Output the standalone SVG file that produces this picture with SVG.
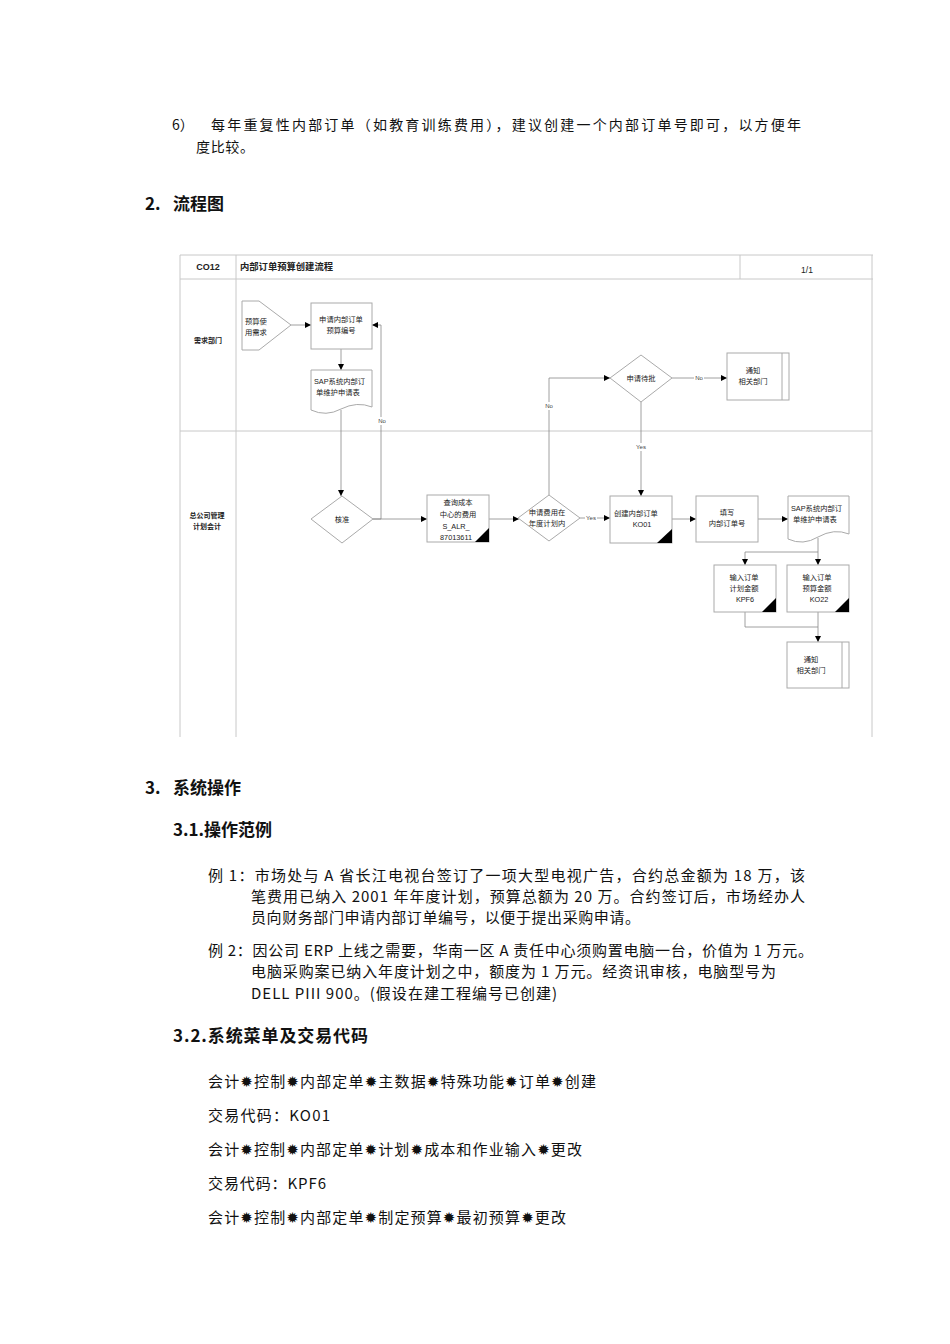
<svg xmlns="http://www.w3.org/2000/svg" width="950" height="1344" viewBox="0 0 950 1344">
<style>
.body{font-family:"Noto Sans CJK SC","DejaVu Sans",sans-serif;fill:#111;}
.h{font-family:"Noto Sans CJK SC","DejaVu Sans",sans-serif;font-weight:bold;fill:#111;}
.fc{font-family:"Liberation Sans","Noto Sans CJK SC",sans-serif;font-size:7.3px;fill:#222;}
.fcb{font-family:"Liberation Sans","Noto Sans CJK SC",sans-serif;font-size:7px;font-weight:bold;fill:#222;}
.lbl{font-family:"Liberation Sans","Noto Sans CJK SC",sans-serif;font-size:6px;fill:#444;}
.frame{stroke:#c8c8c8;stroke-width:1;fill:none;}
.node{stroke:#aaa;stroke-width:1;fill:#fff;}
.conn{stroke:#888;stroke-width:0.8;fill:none;}
.tri{fill:#000;}
</style>
<defs>
<marker id="ah" viewBox="0 0 6 6" refX="6" refY="3" markerWidth="6" markerHeight="6" orient="auto" markerUnits="userSpaceOnUse">
<path d="M0,0 L6,3 L0,6 Z" fill="#000"/>
</marker>
</defs>
<rect width="950" height="1344" fill="#fff"/>

<!-- Body text top -->
<g id="para6">
<text class="body" x="172" y="130" font-size="14">6）</text>
<text class="body" x="211" y="130" font-size="14" textLength="590" lengthAdjust="spacing">每年重复性内部订单（如教育训练费用），建议创建一个内部订单号即可，以方便年</text>
<text class="body" x="196" y="152" font-size="14" textLength="58" lengthAdjust="spacing">度比较。</text>
</g>
<g id="heading2">
<text class="h" x="145" y="210" font-size="17">2.</text>
<text class="h" x="173" y="210" font-size="17">流程图</text>
</g>

<!-- Flowchart frame -->
<g id="frame">
<line class="frame" x1="180" y1="255" x2="873" y2="255"/>
<line class="frame" x1="180" y1="279" x2="873" y2="279"/>
<line class="frame" x1="180" y1="255" x2="180" y2="737"/>
<line class="frame" x1="872" y1="255" x2="872" y2="737"/>
<line class="frame" x1="236" y1="255" x2="236" y2="737"/>
<line class="frame" x1="740" y1="255" x2="740" y2="279"/>
<line class="frame" x1="180" y1="431" x2="872" y2="431"/>
<text class="fcb" x="208" y="270" text-anchor="middle" style="font-size:9px">CO12</text>
<text class="fcb" x="240" y="270" style="font-size:9.3px">内部订单预算创建流程</text>
<text class="fc" x="807" y="273" text-anchor="middle" style="font-size:8.5px">1/1</text>
<text class="fcb" x="208" y="343" text-anchor="middle">需求部门</text>
<text class="fcb" x="207" y="518" text-anchor="middle">总公司管理</text>
<text class="fcb" x="207" y="529" text-anchor="middle">计划会计</text>
</g>

<!-- Connectors -->
<g id="connectors">
<line class="conn" x1="291" y1="325" x2="311" y2="325" marker-end="url(#ah)"/>
<line class="conn" x1="341" y1="349" x2="341" y2="370" marker-end="url(#ah)"/>
<line class="conn" x1="341" y1="410" x2="341" y2="496" marker-end="url(#ah)"/>
<polyline class="conn" points="373,519 381,519 381,325 372,325" marker-end="url(#ah)"/>
<line class="conn" x1="373" y1="519" x2="427" y2="519" marker-end="url(#ah)"/>
<line class="conn" x1="489" y1="519" x2="519" y2="519" marker-end="url(#ah)"/>
<polyline class="conn" points="549,495 549,378 610,378" marker-end="url(#ah)"/>
<line class="conn" x1="672" y1="378" x2="727" y2="378" marker-end="url(#ah)"/>
<line class="conn" x1="641" y1="402" x2="641" y2="496" marker-end="url(#ah)"/>
<line class="conn" x1="580" y1="518" x2="610" y2="518" marker-end="url(#ah)"/>
<line class="conn" x1="672" y1="519" x2="696" y2="519" marker-end="url(#ah)"/>
<line class="conn" x1="758" y1="519" x2="788" y2="519" marker-end="url(#ah)"/>
<line class="conn" x1="818" y1="538" x2="818" y2="565" marker-end="url(#ah)"/>
<polyline class="conn" points="818,552 745,552 745,565" marker-end="url(#ah)"/>
<polyline class="conn" points="745,612 745,627 818,627"/>
<line class="conn" x1="818" y1="612" x2="818" y2="642" marker-end="url(#ah)"/>
<rect x="377" y="417" width="9" height="8" fill="#fff"/>
<text class="lbl" x="382" y="423" text-anchor="middle">No</text>
<rect x="545" y="402" width="9" height="8" fill="#fff"/>
<text class="lbl" x="549" y="408" text-anchor="middle">No</text>
<rect x="694" y="374" width="10" height="8" fill="#fff"/>
<text class="lbl" x="699" y="380" text-anchor="middle">No</text>
<rect x="635" y="443" width="12" height="8" fill="#fff"/>
<text class="lbl" x="641" y="449" text-anchor="middle">Yes</text>
<rect x="585" y="514" width="12" height="8" fill="#fff"/>
<text class="lbl" x="591" y="520" text-anchor="middle">Yes</text>
</g>

<!-- Nodes -->
<g id="n_need">
<polygon class="node" points="242,301 259,301 291,325 259,350 242,350"/>
<text class="fc" x="245" y="324">预算使</text>
<text class="fc" x="245" y="335">用需求</text>
</g>
<g id="n_apply">
<rect class="node" x="311" y="303" width="61" height="46"/>
<text class="fc" x="341" y="322" text-anchor="middle">申请内部订单</text>
<text class="fc" x="341" y="333" text-anchor="middle">预算编号</text>
</g>
<g id="n_doc1">
<path class="node" d="M311,370 H372 V407 Q357,401 341,409 Q326,417 311,410 Z"/>
<text class="fc" x="314" y="384">SAP系统内部订</text>
<text class="fc" x="316" y="395">单维护申请表</text>
</g>
<g id="n_approve">
<polygon class="node" points="342,496 373,519 342,543 311,519"/>
<text class="fc" x="342" y="522" text-anchor="middle">核准</text>
</g>
<g id="n_query">
<rect class="node" x="427" y="495" width="62" height="47"/>
<text class="fc" x="458" y="505" text-anchor="middle">查询成本</text>
<text class="fc" x="458" y="517" text-anchor="middle">中心的费用</text>
<text class="fc" x="456" y="529" text-anchor="middle">S_ALR_</text>
<text class="fc" x="456" y="540" text-anchor="middle">87013611</text>
<polygon class="tri" points="475,542 489,542 489,528"/>
</g>
<g id="n_inplan">
<polygon class="node" points="549,495 580,518 549,541 518,518"/>
<text class="fc" x="547" y="515" text-anchor="middle">申请费用在</text>
<text class="fc" x="547" y="526" text-anchor="middle">年度计划内</text>
</g>
<g id="n_pending">
<polygon class="node" points="641,355 672,378 641,402 610,378"/>
<text class="fc" x="641" y="381" text-anchor="middle">申请待批</text>
</g>
<g id="n_notify1">
<rect class="node" x="727" y="353" width="62" height="47"/>
<line class="node" x1="782" y1="353" x2="782" y2="400"/>
<text class="fc" x="753" y="373" text-anchor="middle">通知</text>
<text class="fc" x="753" y="384" text-anchor="middle">相关部门</text>
</g>
<g id="n_create">
<rect class="node" x="610" y="496" width="62" height="47"/>
<text class="fc" x="614" y="516">创建内部订单</text>
<text class="fc" x="642" y="527" text-anchor="middle">KO01</text>
<polygon class="tri" points="657,543 672,543 672,529"/>
</g>
<g id="n_fill">
<rect class="node" x="696" y="496" width="62" height="46"/>
<text class="fc" x="727" y="515" text-anchor="middle">填写</text>
<text class="fc" x="727" y="526" text-anchor="middle">内部订单号</text>
</g>
<g id="n_doc2">
<path class="node" d="M788,496 H849 V534 Q834,528 818,537 Q803,546 788,539 Z"/>
<text class="fc" x="791" y="511">SAP系统内部订</text>
<text class="fc" x="793" y="522">单维护申请表</text>
</g>
<g id="n_kpf6">
<rect class="node" x="714" y="565" width="62" height="47"/>
<text class="fc" x="744" y="580" text-anchor="middle">输入订单</text>
<text class="fc" x="744" y="591" text-anchor="middle">计划金额</text>
<text class="fc" x="745" y="602" text-anchor="middle">KPF6</text>
<polygon class="tri" points="762,612 776,612 776,598"/>
</g>
<g id="n_ko22">
<rect class="node" x="787" y="565" width="62" height="47"/>
<text class="fc" x="817" y="580" text-anchor="middle">输入订单</text>
<text class="fc" x="817" y="591" text-anchor="middle">预算金额</text>
<text class="fc" x="819" y="602" text-anchor="middle">KO22</text>
<polygon class="tri" points="835,612 849,612 849,598"/>
</g>
<g id="n_notify2">
<rect class="node" x="787" y="642" width="62" height="46"/>
<line class="node" x1="842" y1="642" x2="842" y2="688"/>
<text class="fc" x="811" y="662" text-anchor="middle">通知</text>
<text class="fc" x="811" y="673" text-anchor="middle">相关部门</text>
</g>

<!-- Section 3 -->
<g id="heading3">
<text class="h" x="145" y="794" font-size="17">3.</text>
<text class="h" x="173" y="794" font-size="17">系统操作</text>
<text class="h" x="173" y="836" font-size="17">3.1.操作范例</text>
</g>
<g id="examples">
<text class="body" x="208" y="881" font-size="15" textLength="597" lengthAdjust="spacing">例 1：市场处与 A 省长江电视台签订了一项大型电视广告，合约总金额为 18 万，该</text>
<text class="body" x="251" y="902" font-size="15" textLength="554" lengthAdjust="spacing">笔费用已纳入 2001 年年度计划，预算总额为 20 万。合约签订后，市场经办人</text>
<text class="body" x="251" y="923" font-size="15" textLength="389" lengthAdjust="spacing">员向财务部门申请内部订单编号，以便于提出采购申请。</text>
<text class="body" x="208" y="956" font-size="15" textLength="605" lengthAdjust="spacing">例 2：因公司 ERP 上线之需要，华南一区 A 责任中心须购置电脑一台，价值为 1 万元。</text>
<text class="body" x="251" y="977" font-size="15" textLength="525" lengthAdjust="spacing">电脑采购案已纳入年度计划之中，额度为 1 万元。经资讯审核，电脑型号为</text>
<text class="body" x="251" y="999" font-size="15" textLength="306" lengthAdjust="spacing">DELL PIII 900。(假设在建工程编号已创建)</text>
</g>
<g id="heading32">
<text class="h" x="173" y="1042" font-size="17" textLength="195" lengthAdjust="spacing">3.2.系统菜单及交易代码</text>
</g>
<g id="menus">
<text class="body" x="208" y="1087" font-size="15" textLength="388" lengthAdjust="spacing">会计✹控制✹内部定单✹主数据✹特殊功能✹订单✹创建</text>
<text class="body" x="208" y="1121" font-size="15" textLength="122" lengthAdjust="spacing">交易代码：KO01</text>
<text class="body" x="208" y="1155" font-size="15" textLength="374" lengthAdjust="spacing">会计✹控制✹内部定单✹计划✹成本和作业输入✹更改</text>
<text class="body" x="208" y="1189" font-size="15" textLength="118" lengthAdjust="spacing">交易代码：KPF6</text>
<text class="body" x="208" y="1223" font-size="15" textLength="358" lengthAdjust="spacing">会计✹控制✹内部定单✹制定预算✹最初预算✹更改</text>
</g>
</svg>
